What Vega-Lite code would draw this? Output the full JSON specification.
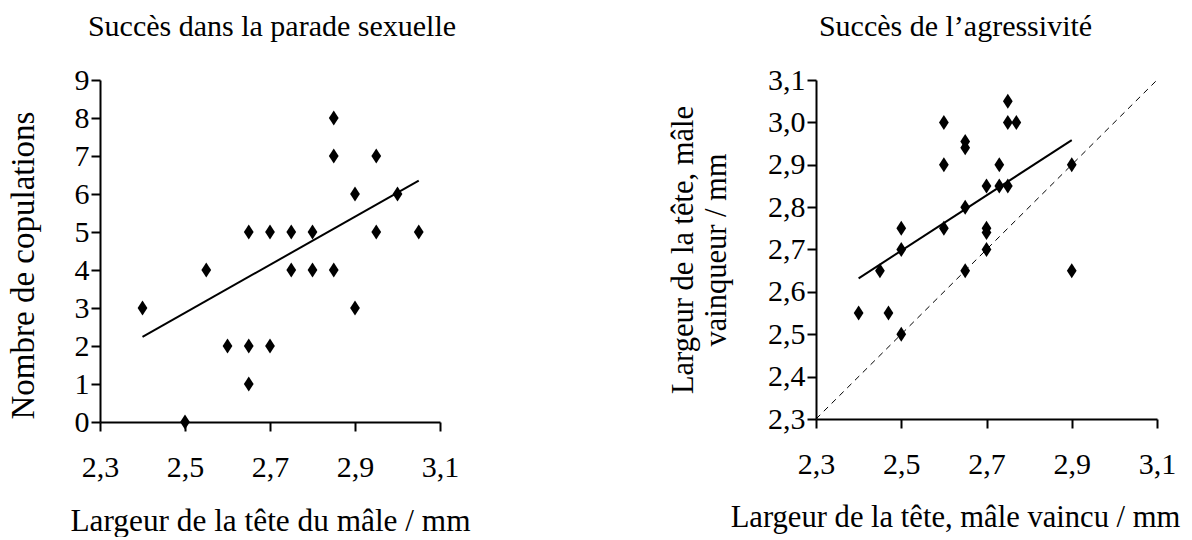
{
  "$schema": "https://vega.github.io/schema/vega-lite/v6.json",
  "background": "white",
  "padding": {"left": 7, "top": 12, "right": 5, "bottom": 0},
  "bounds": "flush",
  "spacing": 376,
  "datasets": {
    "parade": [
      {"largeur": 2.4, "copulations": 3},
      {"largeur": 2.5, "copulations": 0},
      {"largeur": 2.55, "copulations": 4},
      {"largeur": 2.6, "copulations": 2},
      {"largeur": 2.65, "copulations": 5},
      {"largeur": 2.65, "copulations": 2},
      {"largeur": 2.65, "copulations": 1},
      {"largeur": 2.7, "copulations": 5},
      {"largeur": 2.7, "copulations": 2},
      {"largeur": 2.75, "copulations": 5},
      {"largeur": 2.75, "copulations": 4},
      {"largeur": 2.8, "copulations": 5},
      {"largeur": 2.8, "copulations": 4},
      {"largeur": 2.85, "copulations": 8},
      {"largeur": 2.85, "copulations": 7},
      {"largeur": 2.85, "copulations": 4},
      {"largeur": 2.9, "copulations": 6},
      {"largeur": 2.9, "copulations": 3},
      {"largeur": 2.95, "copulations": 7},
      {"largeur": 2.95, "copulations": 5},
      {"largeur": 3.0, "copulations": 6},
      {"largeur": 3.05, "copulations": 5}
    ],
    "parade_fit": [
      {"largeur": 2.4, "copulations": 2.24},
      {"largeur": 3.05, "copulations": 6.35}
    ],
    "agression": [
      {"vaincu": 2.4, "vainqueur": 2.55},
      {"vaincu": 2.45, "vainqueur": 2.65},
      {"vaincu": 2.47, "vainqueur": 2.55},
      {"vaincu": 2.5, "vainqueur": 2.75},
      {"vaincu": 2.5, "vainqueur": 2.7},
      {"vaincu": 2.5, "vainqueur": 2.5},
      {"vaincu": 2.6, "vainqueur": 3.0},
      {"vaincu": 2.6, "vainqueur": 2.9},
      {"vaincu": 2.6, "vainqueur": 2.75},
      {"vaincu": 2.65, "vainqueur": 2.955},
      {"vaincu": 2.65, "vainqueur": 2.94},
      {"vaincu": 2.65, "vainqueur": 2.8},
      {"vaincu": 2.65, "vainqueur": 2.65},
      {"vaincu": 2.7, "vainqueur": 2.85},
      {"vaincu": 2.7, "vainqueur": 2.75},
      {"vaincu": 2.7, "vainqueur": 2.74},
      {"vaincu": 2.7, "vainqueur": 2.7},
      {"vaincu": 2.73, "vainqueur": 2.9},
      {"vaincu": 2.73, "vainqueur": 2.85},
      {"vaincu": 2.75, "vainqueur": 3.05},
      {"vaincu": 2.75, "vainqueur": 3.0},
      {"vaincu": 2.75, "vainqueur": 2.85},
      {"vaincu": 2.77, "vainqueur": 3.0},
      {"vaincu": 2.9, "vainqueur": 2.9},
      {"vaincu": 2.9, "vainqueur": 2.65}
    ],
    "agression_fit": [
      {"vaincu": 2.4, "vainqueur": 2.632},
      {"vaincu": 2.9, "vainqueur": 2.958}
    ],
    "diagonale": [
      {"vaincu": 2.3, "vainqueur": 2.3},
      {"vaincu": 3.1, "vainqueur": 3.1}
    ]
  },
  "config": {
    "view": {"stroke": null},
    "font": "Liberation Serif",
    "axis": {
      "grid": false,
      "domainColor": "black",
      "domainWidth": 2,
      "tickColor": "black",
      "tickWidth": 2,
      "tickSize": 9,
      "labelFont": "Liberation Serif",
      "labelFontSize": 30,
      "labelColor": "black",
      "labelPadding": 2,
      "labelOverlap": false,
      "labelBound": false,
      "labelFlush": false,
      "titleFont": "Liberation Serif",
      "titleFontSize": 32,
      "titleFontWeight": "normal",
      "titleColor": "black"
    },
    "axisX": {"labelPadding": 21, "titlePadding": 23},
    "title": {"font": "Liberation Serif", "fontSize": 30, "fontWeight": "normal", "color": "black"}
  },
  "hconcat": [
    {
      "width": 340,
      "height": 342,
      "title": {"text": "Succès dans la parade sexuelle", "baseline": "alphabetic", "offset": -1, "dx": 2},
      "encoding": {
        "x": {
          "field": "largeur", "type": "quantitative",
          "scale": {"domain": [2.3, 3.1], "nice": false, "zero": false},
          "axis": {"values": [2.3, 2.5, 2.7, 2.9, 3.1], "labelOverlap": false, "labelExpr": "replace(format(datum.value, '.1f'), '.', ',')", "title": "Largeur de la tête du mâle / mm", "titleFontSize": 31.3}
        },
        "y": {
          "field": "copulations", "type": "quantitative",
          "scale": {"domain": [0, 9], "nice": false},
          "axis": {"values": [0, 1, 2, 3, 4, 5, 6, 7, 8, 9], "labelOverlap": false, "title": "Nombre de copulations", "titleFontSize": 33, "titleY": 185, "titlePadding": 34}
        }
      },
      "layer": [
        {
          "data": {"name": "parade"},
          "mark": {"type": "point", "shape": "M0,-1L0.65,0L0,1L-0.65,0Z", "filled": true, "color": "black", "opacity": 1, "size": 225}
        },
        {
          "data": {"name": "parade_fit"},
          "mark": {"type": "line", "color": "black", "strokeWidth": 2}
        }
      ]
    },
    {
      "width": 341,
      "height": 339,
      "title": {"text": "Succès de l’agressivité", "baseline": "alphabetic", "offset": -1, "dx": -31},
      "encoding": {
        "x": {
          "field": "vaincu", "type": "quantitative",
          "scale": {"domain": [2.3, 3.1], "nice": false, "zero": false},
          "axis": {"values": [2.3, 2.5, 2.7, 2.9, 3.1], "labelOverlap": false, "labelExpr": "replace(format(datum.value, '.1f'), '.', ',')", "title": "Largeur de la tête, mâle vaincu / mm", "titleFontSize": 30.6, "titleX": 139, "titleAlign": "center"}
        },
        "y": {
          "field": "vainqueur", "type": "quantitative",
          "scale": {"domain": [2.3, 3.1], "nice": false, "zero": false},
          "axis": {"values": [2.3, 2.4, 2.5, 2.6, 2.7, 2.8, 2.9, 3.0, 3.1], "labelOverlap": false, "labelExpr": "replace(format(datum.value, '.1f'), '.', ',')", "title": ["Largeur de la tête, mâle", "vainqueur / mm"], "titleFontSize": 30.5, "titleLineHeight": 33, "titlePadding": 36.5}
        }
      },
      "layer": [
        {
          "data": {"name": "agression"},
          "mark": {"type": "point", "shape": "M0,-1L0.65,0L0,1L-0.65,0Z", "filled": true, "color": "black", "opacity": 1, "size": 225}
        },
        {
          "data": {"name": "diagonale"},
          "mark": {"type": "line", "color": "black", "strokeWidth": 1, "strokeDash": [6, 5]}
        },
        {
          "data": {"name": "agression_fit"},
          "mark": {"type": "line", "color": "black", "strokeWidth": 2}
        }
      ]
    }
  ]
}
